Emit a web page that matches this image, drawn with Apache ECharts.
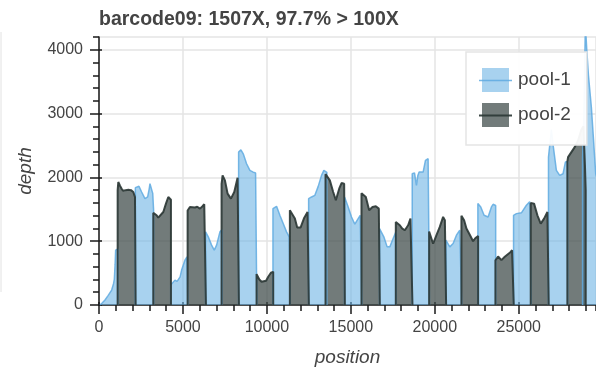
<!DOCTYPE html>
<html><head><meta charset="utf-8">
<script src="https://cdn.jsdelivr.net/npm/echarts@6/dist/echarts.min.js"></script>
<style>html,body{margin:0;padding:0;background:#fff}#c{width:596px;height:368px}</style>
</head><body><div id="c"></div>
<script>
const titleText = 'barcode09: 1507X, 97.7% > 100X';
const seriesNames = ['pool-1', 'pool-2'];
const xName = 'position';
const yName = 'depth';
const xMin = 0, xMax = 29600, xStep = 5000, xMinorStep = 1000;
const yMin = 0, yMax = 4200, yStep = 1000, yMinorStep = 200;
const xTickValues = [0, 5000, 10000, 15000, 20000, 25000];
const yTickValues = [0, 1000, 2000, 3000, 4000];

// pool-1 coverage (null separates amplicon blocks)
const pool1Pos = [
  60,200,357,550,754,860,912,960,992,1071,1130,1130, null,
  2165,2165,2222,2381,2540,2738,2897,2990,3036,3135,3200,3250,3250, null,
  4270,4270,4325,4524,4650,4722,4830,4920,5119,5238,5295,5295, null,
  6350,6350,6508,6706,6865,7004,7202,7320,7320, null,
  8315,8315,8373,8452,8591,8790,8988,9186,9326,9400,9400, null,
  10360,10360,10416,10575,10773,10971,11170,11329,11385,11385, null,
  12485,12485,12519,12658,12856,13055,13253,13392,13491,13570,13570, null,
  14625,14625,14682,14840,15039,15237,15435,15555,15650,15650, null,
  16710,16710,16765,16963,17162,17320,17518,17690,17690, null,
  18655,18655,18709,18790,18907,18990,19066,19305,19443,19602,19680,19680, null,
  20660,20660,20693,20892,21090,21288,21487,21600,21600, null,
  22565,22565,22618,22737,22935,23173,23372,23471,23625,23625, null,
  24690,24690,24721,24860,25157,25455,25650,25730,25730, null,
  26770,26770,26844,26943,27050,27241,27439,27638,27777,27910,27910, null,
  28800,28800,28880,28967,29050,29150,29324,29450,29582,29650
];
const pool1Depth = [
  0,35,78,150,234,330,400,640,860,880,880,0, null,
  0,1839,1839,1860,1771,1667,1693,1820,1901,1901,1750,1500,0, null,
  0,312,312,390,370,365,440,547,703,755,760,0, null,
  0,1146,1068,938,860,938,1146,1180,0, null,
  0,2396,2396,2432,2370,2214,2109,2083,2068,2068,0, null,
  0,1510,1510,1547,1406,1276,1146,1068,1068,0, null,
  0,1667,1667,1693,1719,1859,2031,2109,2120,2080,0, null,
  0,1693,1693,1536,1380,1266,1354,1406,1406,0, null,
  0,1198,1198,1068,911,911,1042,1150,0, null,
  0,2057,2057,2070,1875,2030,2083,2083,2266,2292,2292,0, null,
  0,1016,1016,911,964,1094,1172,1180,0, null,
  0,1589,1589,1537,1406,1380,1537,1578,1560,0, null,
  0,1406,1406,1432,1445,1563,1620,1640,0, null,
  0,2318,2318,2750,2500,2109,2031,2057,2240,2250,0, null,
  0,2300,3000,4400,4000,3600,3099,2600,2060,2000
];

// pool-2 coverage
const pool2Pos = [
  1111,1111,1150,1250,1349,1430,1508,1587,1750,1905,2043,2143,2182,2182, null,
  3234,3234,3432,3530,3631,3829,3988,4127,4230,4285,4285, null,
  5278,5278,5317,5416,5714,5850,6012,6150,6269,6369,6369, null,
  7301,7301,7361,7500,7659,7857,8055,8254,8333,8333, null,
  9385,9385,9425,9550,9683,9781,9950,10079,10238,10376,10376, null,
  11368,11368,11487,11666,11805,12003,12202,12420,12499,12499, null,
  13491,13491,13551,13749,13948,14106,14305,14444,14602,14642,14642, null,
  15634,15634,15733,15892,16090,16289,16487,16666,16725,16725, null,
  17677,17677,17717,17916,18050,18213,18411,18550,18669,18669, null,
  19662,19662,19701,19900,20098,20296,20495,20600,20673,20673, null,
  21586,21586,21626,21745,21884,22082,22280,22420,22578,22578, null,
  23610,23610,23650,23769,23967,24166,24463,24602,24701,24701, null,
  25713,25713,25753,25911,26110,26308,26507,26705,26784,26784, null,
  27896,27896,27936,28134,28332,28531,28729,28850,28940,28987,28987
];
const pool2Depth = [
  0,1800,1927,1870,1823,1790,1771,1800,1805,1800,1771,1693,1680,0, null,
  0,1443,1406,1370,1380,1458,1589,1693,1690,1650,0, null,
  0,1480,1510,1537,1528,1540,1510,1545,1578,1560,0, null,
  0,1900,2031,1953,1745,1667,1771,1995,2000,0, null,
  0,484,484,400,365,352,380,443,505,520,0, null,
  0,1484,1500,1354,1213,1213,1354,1458,1470,0, null,
  0,2050,2057,1953,1771,1641,1823,1911,1901,1880,0, null,
  0,1750,1771,1693,1484,1536,1547,1510,1500,0, null,
  0,1300,1328,1250,1200,1172,1250,1354,1340,0, null,
  0,1150,1172,960,1094,1224,1380,1330,1300,0, null,
  0,1400,1406,1328,1198,1100,1000,1050,1080,0, null,
  0,700,729,760,703,755,818,859,870,0, null,
  0,1600,1615,1589,1406,1276,1354,1458,1470,0, null,
  0,2250,2318,2396,2474,2578,2750,2800,2200,1800,0
];

function toData(pos, dep) {
  return pos.map((p, i) => p === null ? ['-', '-'] : [p, dep[i]]);
}

const FONT = 'Liberation Sans, Arial, Helvetica, sans-serif';
const blueFill = 'rgba(105,178,228,0.58)';
const blueLine = 'rgba(95,170,224,0.85)';
const darkFill = 'rgba(60,72,70,0.72)';
const darkLine = 'rgba(45,56,54,0.92)';
const axisColor = '#1a1a1a';
const gridColor = '#e5e5e5';
const plainNum = v => String(v);

const chart = echarts.init(document.getElementById('c'), null, {renderer: 'canvas'});

function makeX(kind) {
  const base = {type: 'value', min: xMin, max: xMax, position: 'bottom', gridIndex: 0};
  if (kind === 'major') return Object.assign(base, {
    interval: xStep,
    name: xName, nameLocation: 'middle', nameGap: 43,
    nameTextStyle: {fontFamily: FONT, fontSize: 19, fontStyle: 'italic', color: '#444'},
    axisLine: {show: true, lineStyle: {color: axisColor, width: 1.5}},
    axisTick: {show: true, length: 9, lineStyle: {color: axisColor, width: 1.5}, customValues: xTickValues},
    axisLabel: {show: true, margin: 15, fontFamily: FONT, fontSize: 16, color: '#444', customValues: xTickValues, formatter: plainNum},
    splitLine: {show: true, lineStyle: {color: gridColor, width: 1.5}},
    minorTick: {show: false}
  });
  if (kind === 'in') return Object.assign(base, {
    interval: xStep, axisLine: {show: false},
    axisTick: {show: true, inside: true, length: 3, lineStyle: {color: axisColor, width: 1.5}, customValues: xTickValues},
    axisLabel: {show: false}, splitLine: {show: false}
  });
  return Object.assign(base, {
    interval: xMinorStep, axisLine: {show: false},
    axisTick: {show: true, length: 6, lineStyle: {color: axisColor, width: 1.5}},
    axisLabel: {show: false}, splitLine: {show: false}
  });
}
function makeY(kind) {
  const base = {type: 'value', min: yMin, max: yMax, position: 'left', gridIndex: 0};
  if (kind === 'major') return Object.assign(base, {
    interval: yStep,
    name: yName, nameLocation: 'middle', nameGap: 64, nameRotate: 90,
    nameTextStyle: {fontFamily: FONT, fontSize: 19, fontStyle: 'italic', color: '#444'},
    axisLine: {show: true, lineStyle: {color: axisColor, width: 1.5}},
    axisTick: {show: true, length: 9, lineStyle: {color: axisColor, width: 1.5}, customValues: yTickValues},
    axisLabel: {show: true, margin: 16, fontFamily: FONT, fontSize: 16, color: '#444', customValues: yTickValues, formatter: plainNum},
    splitLine: {show: true, lineStyle: {color: gridColor, width: 1.5}}
  });
  if (kind === 'in') return Object.assign(base, {
    interval: yStep, axisLine: {show: false},
    axisTick: {show: true, inside: true, length: 3, lineStyle: {color: axisColor, width: 1.5}, customValues: yTickValues},
    axisLabel: {show: false}, splitLine: {show: false}
  });
  return Object.assign(base, {
    interval: yMinorStep, axisLine: {show: false},
    axisTick: {show: true, length: 6, lineStyle: {color: axisColor, width: 1.5}},
    axisLabel: {show: false}, splitLine: {show: false}
  });
}

const option = {
  animation: false,
  backgroundColor: '#fff',
  title: {
    text: titleText, left: 99, top: 10, padding: 0,
    textStyle: {fontFamily: FONT, fontSize: 19.5, fontWeight: 'bold', color: '#444'}
  },
  grid: {left: 99, right: 0, top: 37, bottom: 63, outerBoundsMode: 'none', containLabel: false,
    show: true, borderColor: gridColor, borderWidth: 1.5, backgroundColor: 'transparent'},
  xAxis: [makeX('major'), makeX('in'), makeX('minor')],
  yAxis: [makeY('major'), makeY('in'), makeY('minor')],
  legend: {
    orient: 'vertical', left: 466, top: 52,
    padding: [16, 16, 18, 16],
    itemWidth: 27, itemHeight: 24, itemGap: 11,
    icon: 'rect',
    backgroundColor: 'rgba(255,255,255,0.95)',
    borderColor: gridColor, borderWidth: 1.5, borderRadius: 0,
    textStyle: {fontFamily: FONT, fontSize: 19, color: '#444', padding: [0, 0, 0, 4]},
    data: [
      {name: seriesNames[0], itemStyle: {color: blueFill, borderWidth: 0}},
      {name: seriesNames[1], itemStyle: {color: darkFill, borderWidth: 0}}
    ]
  },
  series: [
    {
      name: seriesNames[0], type: 'line', xAxisIndex: 0, yAxisIndex: 0,
      data: toData(pool1Pos, pool1Depth),
      showSymbol: false, symbol: 'none', connectNulls: false, clip: true,
      lineStyle: {color: blueLine, width: 1.5},
      itemStyle: {color: blueFill},
      areaStyle: {color: blueFill, opacity: 1}
    },
    {
      name: seriesNames[1], type: 'line', xAxisIndex: 0, yAxisIndex: 0,
      data: toData(pool2Pos, pool2Depth),
      showSymbol: false, symbol: 'none', connectNulls: false, clip: true,
      lineStyle: {color: darkLine, width: 2},
      itemStyle: {color: darkFill},
      areaStyle: {color: darkFill, opacity: 1}
    }
  ],
  graphic: [
    {type: 'line', z: 100, shape: {x1: 479, y1: 80.5, x2: 512, y2: 80.5}, style: {stroke: blueLine, lineWidth: 1.5}},
    {type: 'line', z: 100, shape: {x1: 479, y1: 115.5, x2: 512, y2: 115.5}, style: {stroke: darkLine, lineWidth: 2}},
    {type: 'line', z: 100, shape: {x1: 1, y1: 32, x2: 1, y2: 292}, style: {stroke: '#e2e2e2', lineWidth: 1}}
  ]
};
chart.setOption(option);
</script>
</body></html>
